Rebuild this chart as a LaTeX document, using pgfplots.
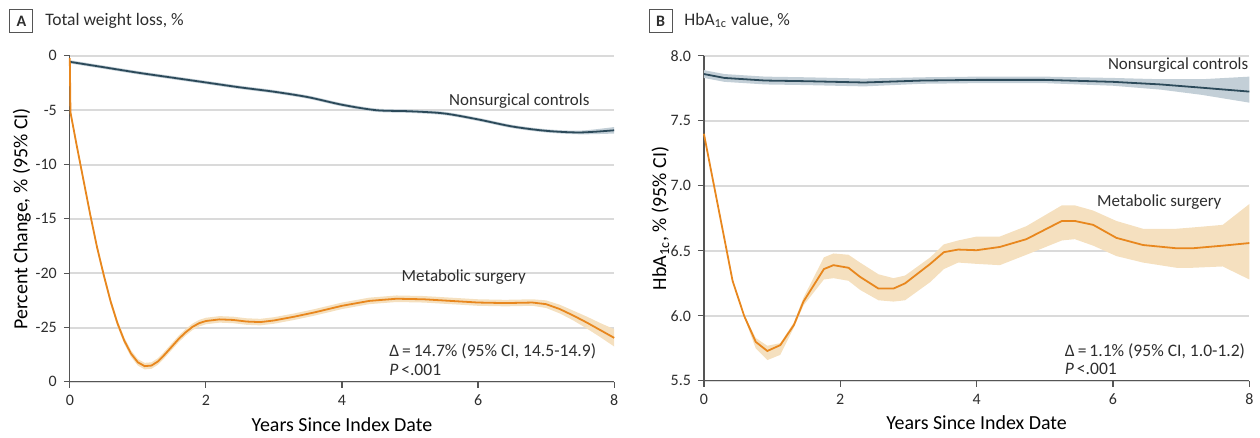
\documentclass[border=0pt]{standalone}
\usepackage{fontspec}
\setmainfont{Carlito}
\usepackage{pgfplots}
\usepackage{pgfplotstable}
\pgfplotsset{compat=1.18}
\usepgfplotslibrary{fillbetween}
\definecolor{ctrl}{HTML}{2C4A5A}
\definecolor{ctrlband}{HTML}{C3CFD7}
\definecolor{surg}{HTML}{E8871E}
\definecolor{surgband}{HTML}{F5E0BF}
\definecolor{gridc}{HTML}{DADADA}
\definecolor{txt}{HTML}{2E2E2E}
\definecolor{axc}{HTML}{555555}

\pgfplotstableread{
x m lo hi
0 -0.55 -0.7 -0.4
0.5 -1.05 -1.2 -0.9
1 -1.55 -1.7 -1.4
1.5 -2.0 -2.15 -1.85
2 -2.45 -2.6 -2.3
2.5 -2.9 -3.05 -2.75
3 -3.3 -3.45 -3.15
3.5 -3.8 -3.95 -3.65
4 -4.5 -4.65 -4.35
4.5 -5.0 -5.15 -4.85
5 -5.1 -5.25 -4.95
5.5 -5.3 -5.45 -5.15
6 -5.85 -6.0 -5.7
6.5 -6.5 -6.65 -6.35
7 -6.9 -7.05 -6.75
7.5 -7.05 -7.22 -6.88
8 -6.85 -7.15 -6.55
}\ctrlA

\pgfplotstableread{
x m lo hi
0 -0.2 -0.2 -0.2
0.01 -5.2 -5.5 -4.9
0.1 -8.2 -8.5 -7.9
0.2 -11.4 -11.7 -11.1
0.3 -14.6 -14.9 -14.3
0.4 -17.6 -17.9 -17.3
0.5 -20.2 -20.5 -19.9
0.6 -22.6 -22.9 -22.3
0.7 -24.6 -24.9 -24.3
0.8 -26.2 -26.5 -25.9
0.9 -27.4 -27.7 -27.1
1.0 -28.2 -28.5 -27.9
1.1 -28.55 -28.85 -28.25
1.2 -28.5 -28.8 -28.2
1.3 -28.1 -28.4 -27.8
1.4 -27.45 -27.75 -27.15
1.5 -26.75 -27.05 -26.45
1.6 -26.05 -26.35 -25.75
1.7 -25.45 -25.75 -25.15
1.8 -24.95 -25.25 -24.65
1.9 -24.6 -24.9 -24.3
2.0 -24.4 -24.7 -24.1
2.2 -24.25 -24.55 -23.95
2.4 -24.3 -24.6 -24.0
2.6 -24.45 -24.75 -24.15
2.8 -24.5 -24.8 -24.2
3.0 -24.35 -24.65 -24.05
3.3 -24.0 -24.3 -23.7
3.6 -23.6 -23.9 -23.3
4.0 -23.0 -23.3 -22.7
4.4 -22.55 -22.85 -22.25
4.8 -22.35 -22.65 -22.05
5.2 -22.4 -22.7 -22.1
5.6 -22.55 -22.85 -22.25
6.0 -22.7 -23.0 -22.4
6.4 -22.75 -23.05 -22.45
6.8 -22.7 -23.0 -22.4
7.0 -22.85 -23.2 -22.5
7.2 -23.3 -23.7 -22.9
7.4 -23.9 -24.35 -23.45
7.6 -24.55 -25.1 -24.0
7.8 -25.25 -25.9 -24.6
8.0 -25.95 -26.75 -25.15
}\surgA

\pgfplotstableread{
x m lo hi
0 7.86 7.83 7.89
0.3 7.83 7.80 7.86
0.9 7.81 7.78 7.84
1.5 7.805 7.775 7.835
2.35 7.795 7.765 7.825
3.2 7.81 7.785 7.835
4.0 7.815 7.79 7.84
5.0 7.815 7.79 7.84
6.0 7.80 7.77 7.83
6.7 7.78 7.74 7.82
7.3 7.755 7.70 7.82
8.0 7.725 7.64 7.84
}\ctrlB

\pgfplotstableread{
x m lo hi
0 7.40 7.40 7.40
0.1 7.13 7.12 7.14
0.32 6.54 6.53 6.55
0.42 6.27 6.26 6.28
0.59 6.00 5.99 6.01
0.76 5.80 5.75 5.83
0.93 5.73 5.66 5.77
1.12 5.775 5.70 5.79
1.32 5.93 5.91 5.95
1.46 6.11 6.08 6.14
1.76 6.36 6.28 6.45
1.9 6.39 6.29 6.48
2.12 6.37 6.27 6.47
2.29 6.30 6.20 6.41
2.56 6.21 6.12 6.32
2.78 6.21 6.11 6.29
2.95 6.25 6.12 6.31
3.32 6.40 6.26 6.45
3.52 6.49 6.36 6.55
3.73 6.51 6.41 6.58
4.0 6.505 6.40 6.61
4.34 6.53 6.39 6.61
4.73 6.59 6.47 6.69
5.25 6.73 6.58 6.85
5.44 6.73 6.59 6.85
5.71 6.70 6.54 6.81
6.05 6.60 6.46 6.73
6.44 6.545 6.41 6.67
6.93 6.52 6.37 6.67
7.17 6.52 6.37 6.68
7.61 6.54 6.38 6.70
8.0 6.56 6.28 6.86
}\surgB

\pgfplotsset{
  panel/.style={
    scale only axis,
    xmin=0, xmax=8,
    xtick={0,2,4,6,8},
    axis x line*=bottom,
    axis y line*=left,
    axis line style={axc, line width=0.6pt},
    tick style={axc, line width=0.6pt},
    tick align=outside,
    major tick length=3pt,
    ymajorgrids,
    grid style={gridc, line width=1pt},
    ticklabel style={font=\fontsize{8}{9}\selectfont, text=txt},
    /pgf/number format/assume math mode=true,
    label style={font=\fontsize{7.7}{9.4}\selectfont, text=txt},
    xlabel={Years Since Index Date},
    every axis x label/.style={at={(axis description cs:0.5,-0.13)}, anchor=center},
    clip=false,
  },
}
\tikzset{
  lab/.style={inner sep=0pt, text=txt, font=\fontsize{8.5}{10}\selectfont},
  ann/.style={anchor=west, inner sep=0pt, text=txt, font=\fontsize{8.8}{10}\selectfont},
}

\begin{document}
\begin{tikzpicture}
% Panel titles
\node[draw=axc, line width=0.5pt, minimum width=11.5pt, minimum height=11.5pt, inner sep=0pt, text=txt, font=\fontsize{8}{9}\selectfont\bfseries] at (10.75pt,206.25pt) {A};
\node[anchor=west, inner sep=0pt, text=txt, font=\fontsize{8.8}{10}\selectfont] at (22.5pt,206.5pt) {Total weight loss, \%};
\node[draw=axc, line width=0.5pt, minimum width=11.5pt, minimum height=11.5pt, inner sep=0pt, text=txt, font=\fontsize{8}{9}\selectfont\bfseries] at (331.25pt,206.25pt) {B};
\node[anchor=west, inner sep=0pt, text=txt, font=\fontsize{8.8}{10}\selectfont] at (343pt,206.5pt) {HbA\textsubscript{1c} value, \%};

% Panel A
\begin{axis}[panel,
  at={(35pt,25.5pt)}, anchor=south west,
  width=273pt, height=163.5pt,
  ymin=-30, ymax=0,
  ytick={-30,-25,-20,-15,-10,-5,0},
  yticklabels={0,-25,-20,-15,-10,-5,0},
  ylabel={Percent Change, \% (95\% CI)},
  every axis y label/.style={at={(axis description cs:-0.088,0.5)}, rotate=90, anchor=center},
]
\addplot[name path=cAl, draw=none, smooth] table[x=x,y=lo]{\ctrlA};
\addplot[name path=cAh, draw=none, smooth] table[x=x,y=hi]{\ctrlA};
\addplot[ctrlband, draw=none] fill between[of=cAl and cAh];
\addplot[ctrl, line width=0.9pt, smooth] table[x=x,y=m]{\ctrlA};

\addplot[name path=sAl, draw=none] table[x=x,y=lo]{\surgA};
\addplot[name path=sAh, draw=none] table[x=x,y=hi]{\surgA};
\addplot[surgband, draw=none] fill between[of=sAl and sAh];
\addplot[surg, line width=0.9pt] table[x=x,y=m]{\surgA};

\node[lab, anchor=west] at (axis cs:5.57,-4.14) {Nonsurgical controls};
\node[lab, anchor=center] at (axis cs:5.79,-20.4) {Metabolic surgery};
\node[ann] at (axis cs:4.69,-27.2) {Δ\,=\,14.7\% (95\% CI, 14.5-14.9)};
\node[ann] at (axis cs:4.69,-28.9) {\textit{P}\,<.001};
\end{axis}

% Panel B
\begin{axis}[panel,
  at={(353pt,26pt)}, anchor=south west,
  width=273.5pt, height=163pt,
  ymin=5.5, ymax=8.0,
  ytick={5.5,6.0,6.5,7.0,7.5,8.0},
  yticklabels={5.5,6.0,6.5,7.0,7.5,8.0},
  ylabel={HbA\textsubscript{1c}, \% (95\% CI)},
  every axis y label/.style={at={(axis description cs:-0.080,0.5)}, rotate=90, anchor=center},
]
\addplot[name path=cBl, draw=none] table[x=x,y=lo]{\ctrlB};
\addplot[name path=cBh, draw=none] table[x=x,y=hi]{\ctrlB};
\addplot[ctrlband, draw=none] fill between[of=cBl and cBh];
\addplot[ctrl, line width=0.9pt] table[x=x,y=m]{\ctrlB};

\addplot[name path=sBl, draw=none] table[x=x,y=lo]{\surgB};
\addplot[name path=sBh, draw=none] table[x=x,y=hi]{\surgB};
\addplot[surgband, draw=none] fill between[of=sBl and sBh];
\addplot[surg, line width=0.9pt] table[x=x,y=m]{\surgB};

\node[lab, anchor=east] at (axis cs:7.99,7.93) {Nonsurgical controls};
\node[lab, anchor=center] at (axis cs:6.68,6.875) {Metabolic surgery};
\node[ann] at (axis cs:5.29,5.73) {Δ\,=\,1.1\% (95\% CI, 1.0-1.2)};
\node[ann] at (axis cs:5.29,5.596) {\textit{P}\,<.001};
\end{axis}
\path (0,0) rectangle (630pt,217pt);
\end{tikzpicture}
\end{document}
